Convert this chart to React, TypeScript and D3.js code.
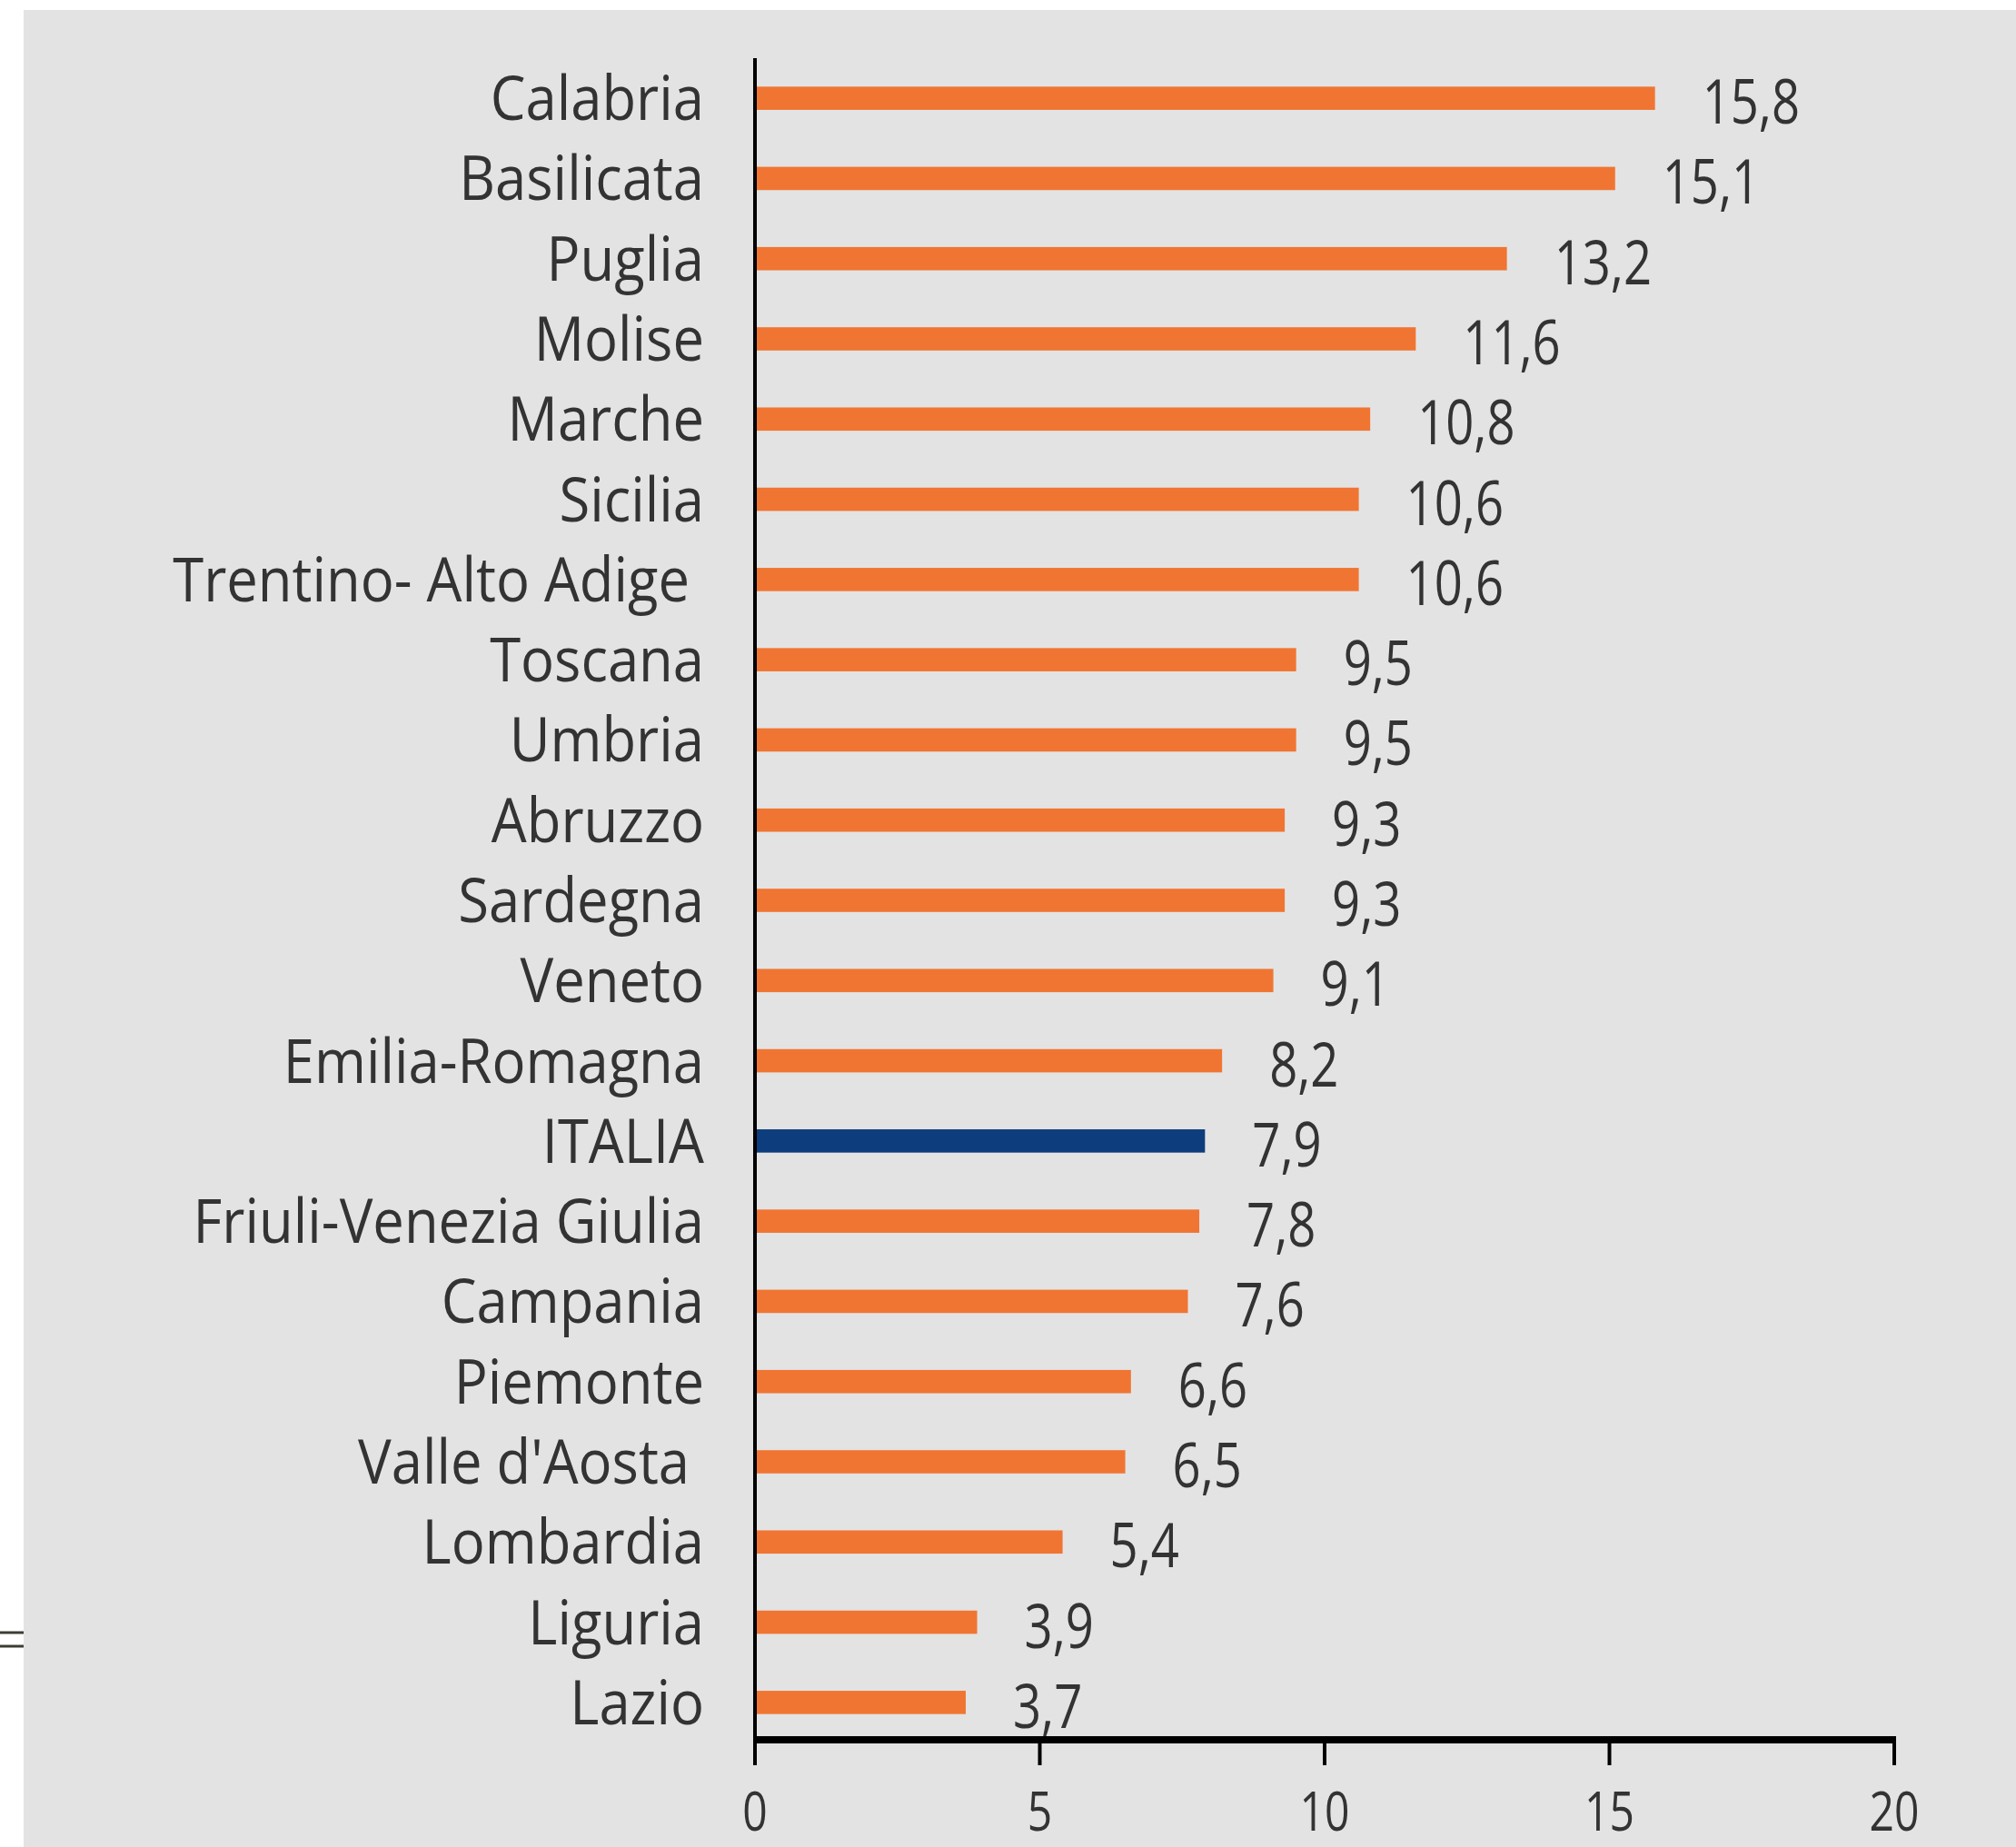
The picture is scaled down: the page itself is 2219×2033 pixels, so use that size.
import React from "react";
import * as d3 from "d3";

const categories = [
  "Calabria", "Basilicata", "Puglia", "Molise", "Marche", "Sicilia",
  "Trentino- Alto Adige ", "Toscana", "Umbria", "Abruzzo", "Sardegna", "Veneto",
  "Emilia-Romagna", "ITALIA", "Friuli-Venezia Giulia", "Campania", "Piemonte",
  "Valle d'Aosta ", "Lombardia", "Liguria", "Lazio",
];
const values = [15.8, 15.1, 13.2, 11.6, 10.8, 10.6, 10.6, 9.5, 9.5, 9.3, 9.3, 9.1, 8.2, 7.9, 7.8, 7.6, 6.6, 6.5, 5.4, 3.9, 3.7];
const highlight = "ITALIA";
const xTicks = [0, 5, 10, 15, 20];

const W = 2219;
const H = 2033;
const ORANGE = "#F07532";
const NAVY = "#0D3D7C";
const TEXT = "#333333";
const FONT = "'Open Sans', sans-serif";

const fmt = d3.formatLocale({ decimal: ",", thousands: ".", grouping: [3], currency: ["", "€"] }).format(".1f");

export default function App() {
  const x = d3.scaleLinear().domain([0, 20]).range([831, 2085]);
  const y = d3.scaleBand<string>().domain(categories).range([64, 1918]).padding(0);
  const step = y.step();
  const barH = step * 0.29;
  const axisY = 1915;

  return (
    <svg width={W} height={H} style={{ position: "absolute", left: 0, top: 0, display: "block" }}>
      <rect x={0} y={0} width={W} height={H} fill="#ffffff" />
      <rect x={26} y={11} width={W - 26} height={H - 11} fill="#e3e3e3" />
      <line x1={0} x2={26} y1={1797} y2={1797} stroke="#3d3d33" strokeWidth={3} />
      <line x1={0} x2={26} y1={1812} y2={1812} stroke="#3d3d33" strokeWidth={3} />

      {categories.map((c, i) => {
        const cy = (y(c) as number) + step / 2;
        const v = values[i];
        return (
          <g key={c}>
            <rect
              x={x(0)}
              y={cy - barH / 2}
              width={x(v) - x(0)}
              height={barH}
              fill={c === highlight ? NAVY : ORANGE}
            />
            <text
              transform={`translate(775,${cy + 24}) scale(0.905,1)`}
              textAnchor="end"
              fontFamily={FONT}
              fontSize={68}
              fill={TEXT}
              style={{ whiteSpace: "pre" }}
            >
              {c}
            </text>
            <text
              transform={`translate(${x(v) + 52},${cy + 28}) scale(0.8,1)`}
              fontFamily={FONT}
              fontSize={68}
              fill={TEXT}
            >
              {fmt(v)}
            </text>
          </g>
        );
      })}

      <line x1={x(0)} x2={x(0)} y1={64} y2={1918} stroke="#000" strokeWidth={4} />
      <line x1={x(0) - 2} x2={x(20) + 2} y1={axisY} y2={axisY} stroke="#000" strokeWidth={8} />
      {xTicks.map((t) => (
        <g key={t}>
          <line x1={x(t)} x2={x(t)} y1={axisY} y2={1943} stroke="#000" strokeWidth={4} />
          <text
            transform={`translate(${x(t)},${2015}) scale(0.8,1)`}
            textAnchor="middle"
            fontFamily={FONT}
            fontSize={60}
            fill={TEXT}
          >
            {t}
          </text>
        </g>
      ))}
    </svg>
  );
}
